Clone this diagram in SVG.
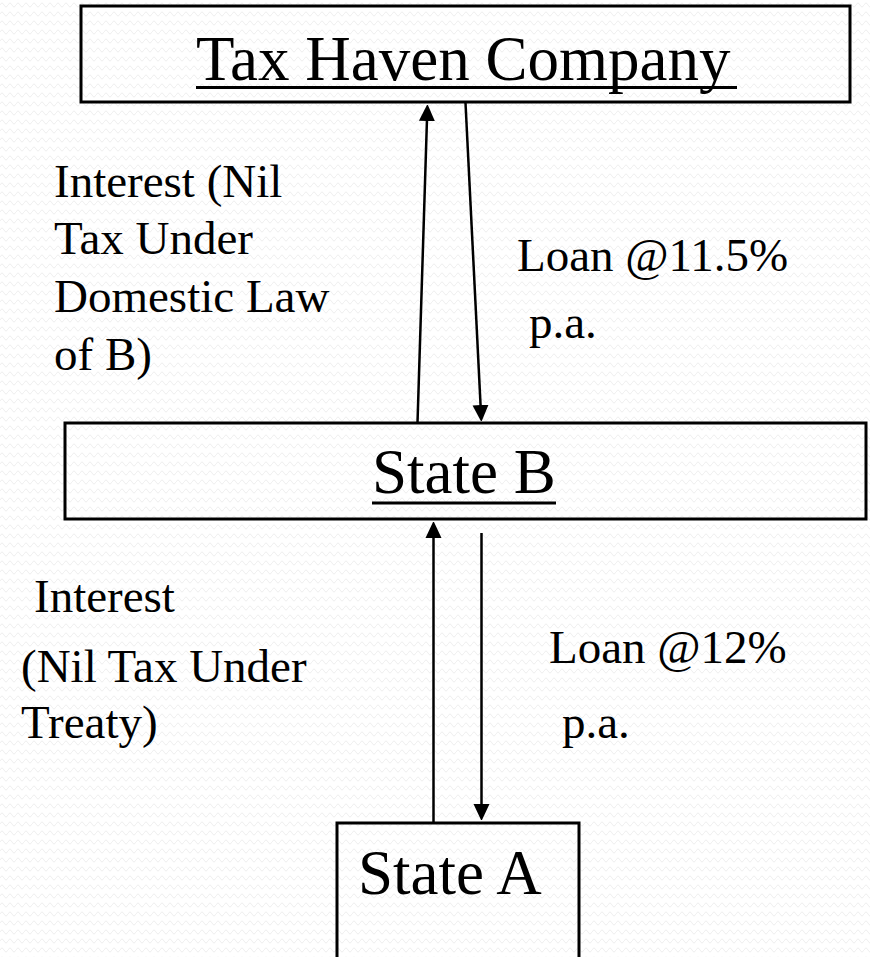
<svg xmlns="http://www.w3.org/2000/svg" width="870" height="957" viewBox="0 0 870 957">
  <defs>
    <style>
      .box { fill: none; stroke: #000; stroke-width: 3; }
      .title { font-family: "Liberation Serif", "Times New Roman", serif; font-size: 63px; fill: #000; }
      .label { font-family: "Liberation Serif", "Times New Roman", serif; font-size: 47px; fill: #000; }
      .uline { stroke: #000; stroke-width: 3; }
      .flow { stroke: #000; stroke-width: 2.5; fill: none; marker-end: url(#head); }
    </style>
    <!-- faint wavy paper texture -->
    <pattern id="waves" width="8" height="9" patternUnits="userSpaceOnUse">
      <path d="M0,5 Q2,1 4,5 T8,5" fill="none" stroke="#eeeeee" stroke-width="1"/>
    </pattern>
    <marker id="head" viewBox="0 0 16 17" markerUnits="userSpaceOnUse" markerWidth="16" markerHeight="17" refX="9" refY="8.5" orient="auto">
      <path d="M0,0.5 L17,8.5 L0,16.5 Z" fill="#000"/>
    </marker>
  </defs>

  <rect width="870" height="957" fill="#fff"/>
  <rect width="870" height="957" fill="url(#waves)"/>

  <g id="tax-haven-company">
    <rect class="box" x="81" y="6" width="769" height="96"/>
    <text class="title" x="196" y="80">Tax Haven Company</text>
    <line class="uline" x1="196" y1="87.5" x2="737" y2="87.5"/>
  </g>

  <g id="state-b">
    <rect class="box" x="65" y="423" width="801" height="96"/>
    <text class="title" x="372" y="493">State B</text>
    <line class="uline" x1="372" y1="503" x2="556" y2="503"/>
  </g>

  <g id="state-a">
    <path class="box" d="M337,960 V823 H579 V960"/>
    <text class="title" x="358" y="894">State A</text>
  </g>

  <g id="connectors">
    <!-- interest paid up from State B to the tax haven -->
    <line class="flow" x1="417.5" y1="423" x2="427.2" y2="112"/>
    <!-- loan down from the tax haven to State B -->
    <line class="flow" x1="465.5" y1="103" x2="481.0" y2="414"/>
    <!-- interest paid up from State A to State B -->
    <line class="flow" x1="433.5" y1="823" x2="433.5" y2="529"/>
    <!-- loan down from State B to State A -->
    <line class="flow" x1="481.5" y1="533" x2="481.5" y2="813"/>
  </g>

  <g id="labels">
    <text class="label" x="54" y="197">Interest (Nil</text>
    <text class="label" x="54" y="254">Tax Under</text>
    <text class="label" x="54" y="312">Domestic Law</text>
    <text class="label" x="54" y="370">of B)</text>

    <text class="label" x="517" y="271">Loan @11.5%</text>
    <text class="label" x="529" y="338">p.a.</text>

    <text class="label" x="34" y="612">Interest</text>
    <text class="label" x="21" y="682">(Nil Tax Under</text>
    <text class="label" x="21" y="738">Treaty)</text>

    <text class="label" x="549" y="663">Loan @12%</text>
    <text class="label" x="562" y="738">p.a.</text>
  </g>
</svg>
